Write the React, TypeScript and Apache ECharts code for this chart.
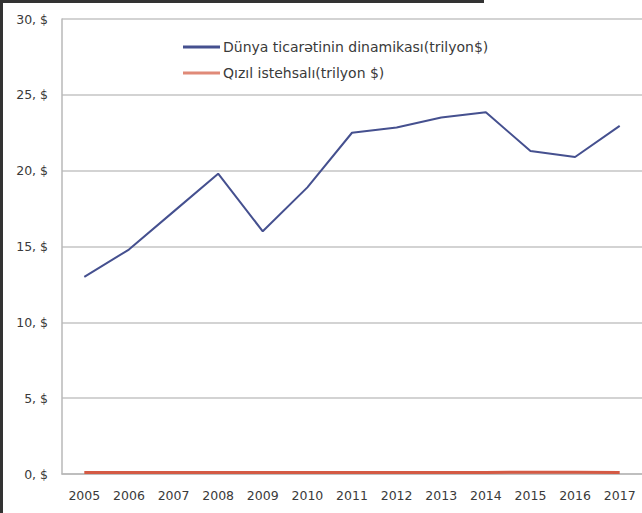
import React, { useEffect, useRef } from "react";
import * as echarts from "echarts";

const years = ["2005", "2006", "2007", "2008", "2009", "2010", "2011", "2012", "2013", "2014", "2015", "2016", "2017"];
const worldTrade = [13.0, 14.8, 17.3, 19.8, 16.0, 18.9, 22.5, 22.85, 23.5, 23.85, 21.3, 20.9, 22.95];
const goldProduction = [0.1, 0.1, 0.1, 0.1, 0.1, 0.1, 0.1, 0.1, 0.1, 0.1, 0.12, 0.12, 0.1];
const seriesNames = ["Dünya ticarətinin dinamikası(trilyon$)", "Qızıl istehsalı(trilyon $)"];

export default function App() {
  const ref = useRef<HTMLDivElement>(null);
  useEffect(() => {
    const chart = echarts.init(ref.current!, null, { renderer: "svg" });
    chart.setOption({
      animation: false,
      backgroundColor: "#ffffff",
      textStyle: { fontFamily: "DejaVu Sans, sans-serif" },
      grid: { left: 62, right: -6, top: 19, bottom: 39, containLabel: false },
      legend: {
        orient: "vertical",
        left: 178,
        top: 35,
        itemWidth: 37,
        itemHeight: 3,
        itemGap: 12,
        icon: "rect",
        textStyle: { fontSize: 14, color: "#3a3a3a", padding: [0, 0, 0, -2] },
        data: seriesNames,
      },
      xAxis: {
        type: "category",
        data: years,
        boundaryGap: true,
        axisLine: { lineStyle: { color: "#b8b8b8", width: 1.5 } },
        axisTick: { show: false },
        axisLabel: { fontSize: 12.5, color: "#3a3a3a", margin: 15, interval: 0 },
      },
      yAxis: {
        type: "value",
        min: 0,
        max: 30,
        interval: 5,
        axisLine: { show: true, lineStyle: { color: "#b8b8b8", width: 1.5 } },
        axisTick: { show: false },
        splitLine: { lineStyle: { color: "#c4c4c4", width: 1.5 } },
        axisLabel: { fontSize: 12.5, color: "#3a3a3a", margin: 14, formatter: (v: number) => v + ", $" },
      },
      series: [
        {
          name: seriesNames[0],
          type: "line",
          data: worldTrade,
          symbol: "none",
          lineStyle: { color: "#45508f", width: 2 },
          itemStyle: { color: "#45508f" },
        },
        {
          name: seriesNames[1],
          type: "line",
          data: goldProduction,
          symbol: "none",
          lineStyle: { color: "#d45a44", width: 3 },
          itemStyle: { color: "#e08a78" },
        },
      ],
      graphic: [
        { type: "rect", left: 0, top: 0, shape: { width: 484, height: 3 }, style: { fill: "#333333" }, z: 100 },
        { type: "rect", left: 0, top: 0, shape: { width: 3, height: 513 }, style: { fill: "#333333" }, z: 100 },
      ],
    });
    return () => chart.dispose();
  }, []);
  return <div ref={ref} style={{ position: "absolute", left: 0, top: 0, width: 642, height: 513 }} />;
}
